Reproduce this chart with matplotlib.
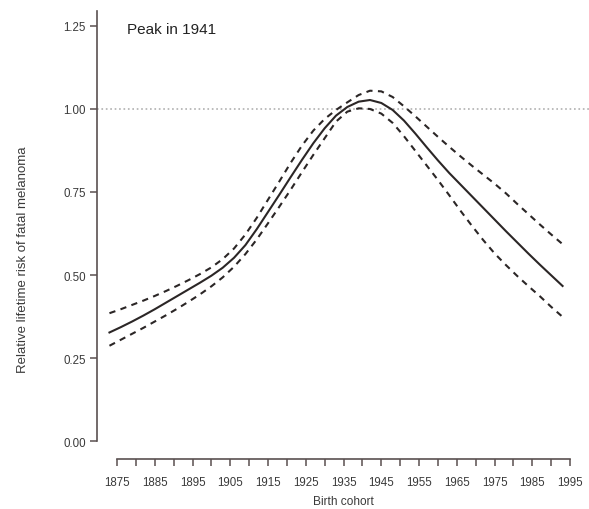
import matplotlib
matplotlib.use("Agg")
import matplotlib.pyplot as plt

# birth cohort years and estimated relative risks
years = [1873, 1876, 1879, 1882, 1885, 1888, 1891, 1894, 1897, 1900, 1903, 1906,
         1909, 1912, 1915, 1918, 1921, 1924, 1927, 1930, 1933, 1936, 1939, 1942,
         1945, 1948, 1951, 1954, 1957, 1960, 1963, 1966, 1969, 1972, 1975, 1978,
         1981, 1984, 1987, 1990, 1993]
rr_mid = [0.327, 0.343, 0.360, 0.378, 0.397, 0.417, 0.437, 0.457, 0.477, 0.498,
          0.522, 0.552, 0.590, 0.638, 0.690, 0.742, 0.795, 0.847, 0.897, 0.942,
          0.980, 1.006, 1.022, 1.027, 1.018, 0.997, 0.965, 0.926, 0.885, 0.845,
          0.807, 0.772, 0.737, 0.702, 0.667, 0.632, 0.598, 0.564, 0.531, 0.499,
          0.467]
rr_upper = [0.385, 0.397, 0.410, 0.423, 0.437, 0.452, 0.468, 0.485, 0.503, 0.523,
            0.548, 0.580, 0.622, 0.672, 0.727, 0.782, 0.838, 0.890, 0.935, 0.970,
            0.997, 1.020, 1.042, 1.055, 1.053, 1.036, 1.008, 0.978, 0.947, 0.916,
            0.886, 0.857, 0.829, 0.802, 0.775, 0.746, 0.714, 0.683, 0.652, 0.622,
            0.593]
rr_lower = [0.287, 0.305, 0.323, 0.341, 0.360, 0.379, 0.399, 0.420, 0.442, 0.466,
            0.493, 0.525, 0.563, 0.607, 0.656, 0.706, 0.757, 0.810, 0.862, 0.912,
            0.962, 0.992, 1.002, 1.000, 0.986, 0.958, 0.918, 0.874, 0.830, 0.786,
            0.740, 0.693, 0.648, 0.605, 0.565, 0.530, 0.497, 0.466, 0.436, 0.404,
            0.374]

x_ticks = list(range(1875, 1996, 5))
x_labels = [str(y) if (y - 1875) % 10 == 0 else "" for y in x_ticks]
y_ticks = [0.0, 0.25, 0.5, 0.75, 1.0, 1.25]

plt.rcParams['font.family'] = ['Liberation Sans', 'DejaVu Sans']
ink = '#2b2626'
axis_col = '#5a5050'
text_col = '#3a3a3a'

fig = plt.figure(figsize=(5.89, 5.10), dpi=100)
ax = fig.add_axes([97 / 589, 50 / 510, 492 / 589, 448 / 510])

ax.axhline(1.0, color='#b0b0b0', linestyle=':', linewidth=1.2, zorder=1)
ax.plot(years, rr_mid, color=ink, linewidth=1.5, zorder=3)
ax.plot(years, rr_upper, color=ink, linewidth=1.5, dashes=(3, 2.6), zorder=2)
ax.plot(years, rr_lower, color=ink, linewidth=1.5, dashes=(3, 2.6), zorder=2)

ax.set_xlim(1869.7, 2000)
ax.set_ylim(-0.054, 1.295)

for s in ['top', 'right']:
    ax.spines[s].set_visible(False)
ax.spines['left'].set_bounds(0, 1.295)
ax.spines['bottom'].set_bounds(1875, 1995)
for s in ['left', 'bottom']:
    ax.spines[s].set_color(axis_col)
    ax.spines[s].set_linewidth(1.2)

ax.set_xticks(x_ticks)
ax.set_xticklabels(x_labels)
ax.set_yticks(y_ticks)
ax.set_yticklabels([f"{v:.2f}" for v in y_ticks])
ax.tick_params(axis='both', colors=axis_col, labelcolor=text_col,
               labelsize=8.3, length=5, width=1.1)
ax.tick_params(axis='x', pad=7)
ax.tick_params(axis='y', pad=3)

ax.set_xlabel('Birth cohort', fontsize=8.6, color=text_col, labelpad=5)
ax.set_ylabel('Relative lifetime risk of fatal melanoma', fontsize=9.5, color=text_col)
ax.yaxis.set_label_coords(-0.138, 0.446)

ax.text(0.061, 0.96, 'Peak in 1941', transform=ax.transAxes, fontsize=11,
        color='#222222', va='center', ha='left')

fig.savefig('out.png', dpi=100)
